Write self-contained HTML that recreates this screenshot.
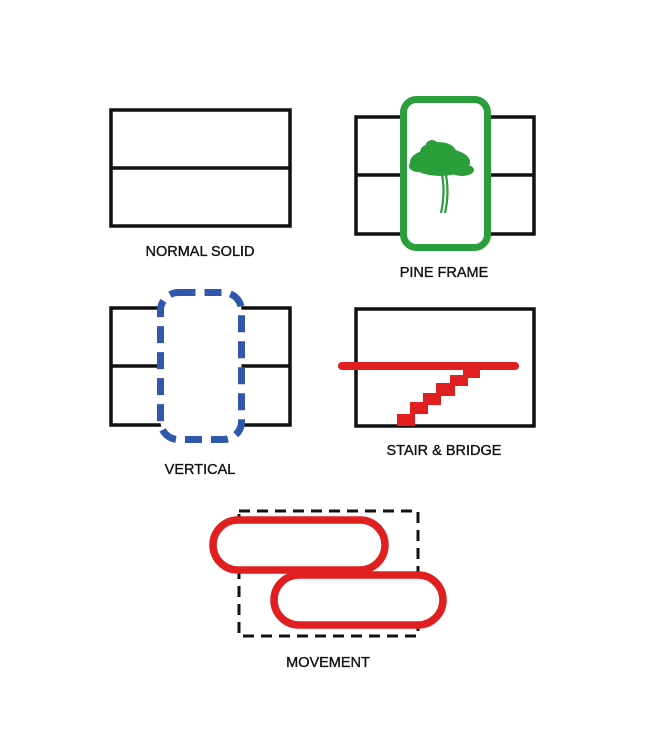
<!DOCTYPE html>
<html><head><style>
html,body{margin:0;padding:0;background:#fff;width:658px;height:751px;overflow:hidden}
svg{display:block}
text{font-family:"Liberation Sans",Arial,sans-serif;font-size:14.5px;fill:#111;text-anchor:middle;stroke:#111;stroke-width:0.35}
</style></head><body>
<svg width="658" height="751" viewBox="0 0 658 751" xmlns="http://www.w3.org/2000/svg">
<g fill="none" stroke="#111" stroke-width="3.5">
<rect x="111" y="110" width="179" height="116"/>
<line x1="111" y1="168" x2="290" y2="168"/>
<rect x="356" y="117" width="178" height="117"/>
<line x1="356" y1="175" x2="534" y2="175"/>
<rect x="111" y="308" width="179" height="117"/>
<line x1="111" y1="366" x2="290" y2="366"/>
<rect x="356" y="309" width="178" height="117"/>
<rect x="239" y="511" width="179" height="125" stroke-width="3" stroke-dasharray="11,7"/>
</g>
<rect x="403.5" y="99.5" width="84" height="148" rx="13" fill="#fff" stroke="#2a9e3a" stroke-width="7"/>
<g fill="#2a9e3a">
<ellipse cx="440" cy="162" rx="30" ry="14"/>
<ellipse cx="438" cy="152" rx="18" ry="10"/>
<ellipse cx="418" cy="166" rx="9" ry="6"/>
<ellipse cx="462" cy="170" rx="12" ry="6"/>
<ellipse cx="432" cy="145" rx="6" ry="5"/>
</g>
<g stroke="#2a9e3a" stroke-width="2.2" fill="none">
<path d="M441 170 Q446 190 441 213"/>
<path d="M445 170 Q450 192 445 213"/>
</g>
<rect x="160.5" y="292.5" width="81" height="147" rx="18" fill="#fff" stroke="#2f58ad" stroke-width="7" stroke-dasharray="17,9"/>
<line x1="342" y1="366" x2="515" y2="366" stroke="#e02020" stroke-width="8" stroke-linecap="round"/>
<path d="M397 426 V414 H410 V402 H423 V393 H436 V383 H450 V375 H463 V368 H480 V378 H468 V386 H455 V396 H441 V405 H428 V414 H415 V426 Z" fill="#e02020"/>
<g fill="#fff" stroke="#e02020" stroke-width="7.5">
<rect x="213" y="520" width="172" height="50" rx="25"/>
<rect x="274" y="575" width="169" height="50" rx="25"/>
</g>
<text x="200" y="256">NORMAL SOLID</text>
<text x="444" y="277">PINE FRAME</text>
<text x="200" y="474">VERTICAL</text>
<text x="444" y="455">STAIR &amp; BRIDGE</text>
<text x="328" y="667">MOVEMENT</text>
</svg>
</body></html>
